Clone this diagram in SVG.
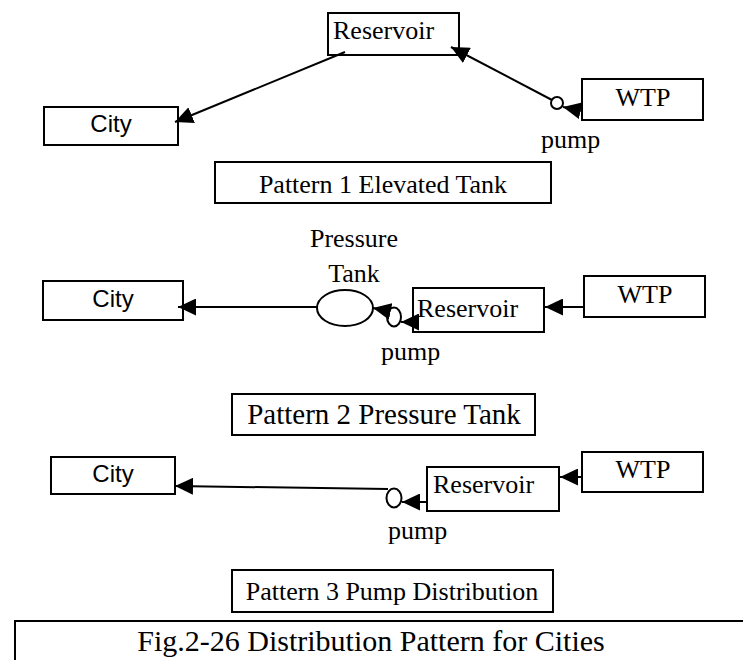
<svg xmlns="http://www.w3.org/2000/svg" width="743" height="660" viewBox="0 0 743 660">
<style>
.box{fill:#fff;stroke:#000;stroke-width:2}
.shape{fill:#fff;stroke:#000;stroke-width:2}
.serif{font-family:"Liberation Serif","Times New Roman",serif;font-size:26px;fill:#000}
.sans{font-family:"Liberation Sans",Arial,sans-serif;font-size:24px;fill:#000}
.mid{text-anchor:middle}
.conn line{stroke:#000;stroke-width:2;marker-end:url(#arr)}
</style>
<defs>
<marker id="arr" markerUnits="userSpaceOnUse" markerWidth="18" markerHeight="17" refX="18" refY="8.5" orient="auto">
<path d="M0,0 L18,8.5 L0,17 z" fill="#000"/>
</marker>
</defs>
<rect width="743" height="660" fill="#fff"/>

<!-- Pattern 1 -->
<g id="p1-reservoir"><rect class="box" x="328" y="13" width="131" height="42"/><text class="serif" x="333" y="39">Reservoir</text></g>
<g id="p1-city"><rect class="box" x="44" y="107" width="134" height="38"/><text class="sans mid" x="111" y="132">City</text></g>
<g id="p1-wtp"><rect class="box" x="582" y="79" width="121" height="41"/><text class="serif mid" x="643" y="106">WTP</text></g>
<g id="p1-pump"><circle class="shape" cx="557" cy="103" r="6"/><text class="serif" x="541" y="148">pump</text></g>
<g id="p1-label"><rect class="box" x="215" y="162" width="336" height="41"/><text class="serif mid" x="383" y="193">Pattern 1 Elevated Tank</text></g>

<!-- Pattern 2 -->
<g id="p2-city"><rect class="box" x="43" y="281" width="140" height="39"/><text class="sans mid" x="113" y="307">City</text></g>
<g id="p2-tank"><text class="serif mid" x="354" y="247">Pressure</text><text class="serif mid" x="354" y="282">Tank</text><ellipse class="shape" cx="345" cy="308" rx="28" ry="18"/></g>
<g id="p2-pump"><ellipse class="shape" cx="394" cy="317" rx="7" ry="9.5"/><text class="serif" x="381" y="360">pump</text></g>
<g id="p2-reservoir"><rect class="box" x="413" y="288" width="131" height="44"/><text class="serif" x="417" y="317">Reservoir</text></g>
<g id="p2-wtp"><rect class="box" x="584" y="276" width="121" height="41"/><text class="serif mid" x="645" y="303">WTP</text></g>
<g id="p2-label"><rect class="box" x="232" y="394" width="303" height="41"/><text class="serif mid" x="384" y="424" style="font-size:29px">Pattern 2 Pressure Tank</text></g>

<!-- Pattern 3 -->
<g id="p3-city"><rect class="box" x="51" y="457" width="124" height="37"/><text class="sans mid" x="113" y="482">City</text></g>
<g id="p3-pump"><ellipse class="shape" cx="394" cy="498" rx="7.5" ry="9.5"/><text class="serif" x="388" y="539">pump</text></g>
<g id="p3-reservoir"><rect class="box" x="427" y="467" width="132" height="44"/><text class="serif" x="433" y="493">Reservoir</text></g>
<g id="p3-wtp"><rect class="box" x="582" y="452" width="121" height="40"/><text class="serif mid" x="643" y="478">WTP</text></g>
<g id="p3-label"><rect class="box" x="232" y="570" width="321" height="42"/><text class="serif mid" x="392" y="600">Pattern 3 Pump Distribution</text></g>

<!-- Caption -->
<g id="caption"><rect class="box" x="15" y="621" width="740" height="60"/><text class="serif mid" x="371" y="651" style="font-size:30px">Fig.2-26 Distribution Pattern for Cities</text></g>

<g id="connectors" class="conn">
<line x1="345" y1="52" x2="175" y2="122"/>
<line x1="582" y1="111" x2="563" y2="107"/>
<line x1="552" y1="100" x2="451" y2="47"/>
<line x1="317" y1="307" x2="178" y2="307"/>
<line x1="388" y1="311" x2="373" y2="308"/>
<line x1="418" y1="322" x2="401" y2="322"/>
<line x1="584" y1="307" x2="545" y2="307"/>
<line x1="388" y1="489" x2="175" y2="486"/>
<line x1="427" y1="502" x2="402" y2="502"/>
<line x1="582" y1="477" x2="560" y2="477"/>
</g>
</svg>
